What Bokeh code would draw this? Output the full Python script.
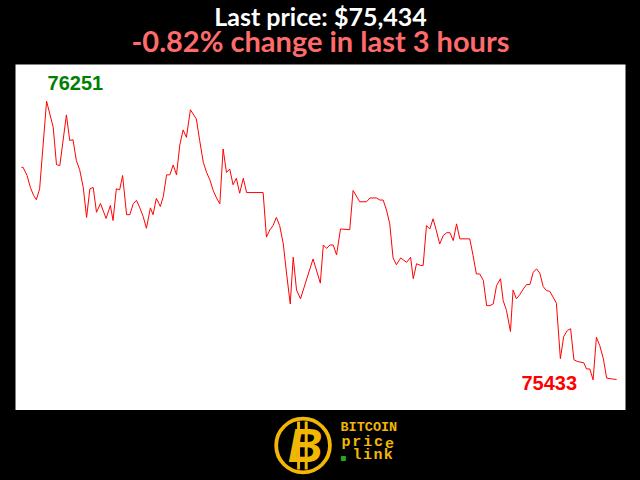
from bokeh.plotting import figure
from bokeh.models import Range1d
from bokeh.layouts import column
from bokeh.embed import file_html
from bokeh.resources import INLINE
from bokeh.core.properties import value

# minutes since start of the 3-hour window, and BTC price (USD)
minutes = [0, 0.5, 1.7, 2.7, 3.7, 4.5, 5.5, 7.6, 9.6, 10.6,
           11.6, 13.6, 14.6, 15.6, 16.6, 17.6, 18.7, 19.7, 20.7, 21.7,
           22.7, 23.9, 25.6, 26.9, 27.7, 28.7, 29.7, 30.6, 31.8, 32.8,
           33.8, 34.8, 35.8, 36.8, 37.8, 39.0, 39.8, 40.8, 42.0, 42.9,
           43.9, 44.9, 45.9, 46.9, 47.9, 48.9, 49.9, 51.1, 52.9, 53.9,
           55.0, 56.0, 57.0, 58.0, 59.0, 60.0, 61.0, 62.0, 63.0, 64.0,
           65.0, 66.0, 67.1, 68.1, 73.1, 74.1, 75.1, 76.1, 77.1, 78.1,
           79.2, 80.2, 81.3, 82.2, 83.2, 84.4, 88.2, 90.4, 91.3, 92.3,
           93.3, 94.3, 95.3, 96.5, 99.3, 100.3, 102.3, 104.4, 105.4, 107.4,
           108.4, 109.4, 110.4, 111.4, 112.4, 113.4, 114.7, 116.5, 117.7, 118.5,
           119.5, 120.7, 121.5, 122.5, 123.5, 124.5, 125.5, 126.5, 127.6, 128.6,
           129.6, 130.6, 131.6, 132.6, 135.6, 136.6, 137.6, 138.6, 139.7, 140.7,
           141.7, 142.7, 143.7, 144.9, 145.7, 146.7, 147.9, 148.7, 149.7, 150.7,
           151.8, 152.8, 153.8, 154.8, 155.8, 156.8, 157.8, 158.8, 159.8, 160.8,
           161.8, 163.0, 164.0, 165.1, 166.1, 167.1, 168.1, 170.1, 170.9, 171.9,
           172.9, 173.9, 174.9, 176.0, 177.0, 178.5, 180]
prices = [76057, 76057, 76033, 75998, 75974, 75962, 75994, 76251, 76175, 76065,
          76062, 76211, 76136, 76138, 76077, 76050, 75998, 75910, 75994, 75998,
          75925, 75951, 75907, 75945, 75901, 75994, 75991, 76033, 75918, 75918,
          75950, 75960, 75938, 75913, 75878, 75938, 75918, 75966, 75942, 75971,
          76035, 76035, 76064, 76035, 76123, 76167, 76145, 76226, 76199, 76136,
          76072, 76042, 76020, 75989, 75967, 75950, 76111, 76042, 76052, 76006,
          76025, 75981, 76025, 75983, 75983, 75852, 75873, 75886, 75910, 75886,
          75832, 75744, 75656, 75793, 75697, 75671, 75788, 75717, 75829, 75819,
          75829, 75829, 75800, 75876, 75874, 75989, 75956, 75956, 75967, 75967,
          75961, 75961, 75932, 75891, 75791, 75771, 75791, 75778, 75793, 75730,
          75774, 75769, 75769, 75886, 75876, 75906, 75871, 75832, 75857, 75865,
          75865, 75842, 75891, 75847, 75847, 75798, 75744, 75744, 75725, 75651,
          75651, 75656, 75710, 75730, 75666, 75637, 75575, 75697, 75671, 75683,
          75700, 75713, 75713, 75749, 75759, 75746, 75707, 75695, 75693, 75676,
          75658, 75495, 75560, 75578, 75583, 75492, 75487, 75483, 75465, 75465,
          75433, 75558, 75534, 75495, 75438, 75436, 75434]
change_pct = -0.82
window_hours = 3

W = 640
YELLOW = "#F2B705"

def blank(fig):
    fig.axis.visible = False
    fig.grid.visible = False
    fig.background_fill_color = "black"
    fig.border_fill_color = "black"

# ---------------- header ----------------
head = figure(width=W, height=64, output_backend="svg", toolbar_location=None,
              x_range=Range1d(0, W), y_range=Range1d(0, 64),
              min_border=0, outline_line_color=None)
blank(head)
head.text(x=[W / 2], y=[49], text=[f"Last price: ${prices[-1]:,}"],
          text_align="center", text_baseline="alphabetic",
          text_font=value("Lato"), text_font_style="bold",
          text_font_size="25px", text_color="white")
head.text(x=[W / 2], y=[24], text=[f"{change_pct:.2f}% change in last {window_hours} hours"],
          text_align="center", text_baseline="alphabetic",
          text_font=value("Lato"), text_font_style="bold",
          text_font_size="29px", text_color="#FF6B6B")

# ---------------- main chart ----------------
p = figure(width=W, height=346, output_backend="svg", toolbar_location=None,
           x_range=Range1d(-1.8, 182.7), y_range=Range1d(75343, 76359),
           min_border_left=15, min_border_right=15, min_border_top=0, min_border_bottom=0,
           outline_line_color=None)
blank(p)
p.background_fill_color = "white"
p.line(minutes, prices, line_color="red", line_width=1)

hi = max(prices)
lo = min(prices)
hi_i = prices.index(hi)
lo_i = prices.index(lo)
p.text(x=[minutes[hi_i]], y=[hi], text=[str(hi)], text_align="left",
       text_baseline="alphabetic", x_offset=1, y_offset=-18,
       text_font=value("Liberation Sans"), text_font_style="bold",
       text_font_size="20px", text_color="green")
p.text(x=[minutes[lo_i]], y=[lo], text=[str(lo)], text_align="right",
       text_baseline="alphabetic", x_offset=-16, y_offset=3,
       text_font=value("Liberation Sans"), text_font_style="bold",
       text_font_size="20px", text_color="red")

# ---------------- logo ----------------
logo = figure(width=W, height=70, output_backend="svg", toolbar_location=None,
              x_range=Range1d(0, W), y_range=Range1d(0, 70),
              min_border=0, outline_line_color=None)
blank(logo)
logo.circle(x=[301.7], y=[35], radius=28.2, fill_color="black",
            line_color=YELLOW, line_width=3.8)
logo.segment(x0=[297, 305], y0=[59, 59], x1=[297, 305], y1=[11, 11],
             line_color=YELLOW, line_width=3)
logo.text(x=[304], y=[35], text=["B"], text_align="center", text_baseline="middle",
          text_font=value("Liberation Sans"), text_font_style="bold italic",
          text_font_size="48px", text_color=YELLOW)
logo.text(x=[341], y=[53.4], text=["BITCOIN"], text_align="left", text_baseline="alphabetic",
          text_font=value("Liberation Mono"), text_font_style="bold",
          text_font_size="13.5px", text_color=YELLOW)
logo.text(x=[346.7, 358.1, 369.5, 380.9, 392.3], y=[38] * 5, text=list("price"),
          text_align="center", text_baseline="alphabetic",
          text_font=value("Liberation Mono"), text_font_style="bold",
          text_font_size="15px", text_color=YELLOW)
logo.text(x=[358.2, 369.2, 380.2, 391.2], y=[25] * 4, text=list("link"),
          text_align="center", text_baseline="alphabetic",
          text_font=value("Liberation Mono"), text_font_style="bold",
          text_font_size="15px", text_color=YELLOW)
logo.scatter(x=[344], y=[22], size=4, marker="square", color="#22AA22")

layout = column(head, p, logo, spacing=0)
html = file_html(layout, INLINE)
html = html.replace("<head>", "<head><style>html,body{background:#000;}</style>", 1)
open("out.html", "w").write(html)
